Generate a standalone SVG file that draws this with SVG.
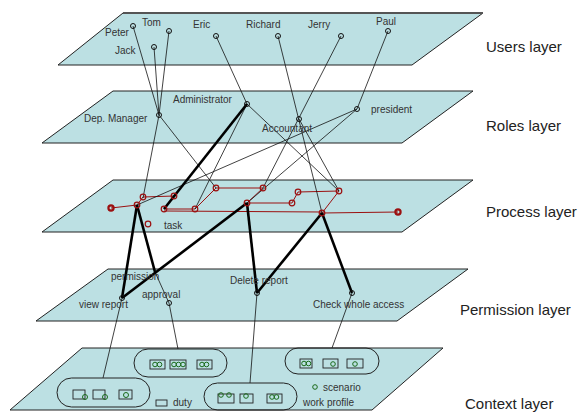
<svg xmlns="http://www.w3.org/2000/svg" width="580" height="412" viewBox="0 0 580 412">
<style>
.layer{fill:#bce0e3;stroke:#222;stroke-width:1}
.t{font-family:"Liberation Sans",Arial,sans-serif;font-size:10px;fill:#333}
.lt{font-family:"Liberation Sans",Arial,sans-serif;font-size:15px;fill:#222}
.n{fill:none;stroke:#111;stroke-width:1}
.thin{stroke:#111;stroke-width:0.8;fill:none}
.thick{stroke:#000;stroke-width:2.6;fill:none}
.flow{stroke:#9b1010;stroke-width:1;fill:none}
.tk{fill:none;stroke:#9b1010;stroke-width:1.2}
.se{fill:none;stroke:#9b1010;stroke-width:2.2}
.pill{fill:none;stroke:#222;stroke-width:1}
.box{fill:none;stroke:#222;stroke-width:0.9}
.g{fill:none;stroke:#1a6a1a;stroke-width:1}
</style>
<g id="layers">
<polygon id="users-layer" class="layer" points="123,13 483,13 412,65 58,65"/>
<line x1="123" y1="13" x2="483" y2="13" stroke="#555" stroke-width="1.8"/>
<polygon id="roles-layer" class="layer" points="113,91 473,91 402,143 42,143"/>
<polygon id="process-layer" class="layer" points="113,180 473,180 402,232 42,232"/>
<polygon id="permission-layer" class="layer" points="108,269 468,269 397,321 36,321"/>
<polygon id="context-layer" class="layer" points="82,348 443,348 372,410 10,410"/>
<text class="lt" x="486" y="52">Users layer</text>
<text class="lt" x="486" y="131">Roles layer</text>
<text class="lt" x="486" y="217">Process layer</text>
<text class="lt" x="460" y="315">Permission layer</text>
<text class="lt" x="465" y="409">Context layer</text>
</g>
<g id="connectors">
<path class="flow" d="M111,208 L137,205 L143,197 L174,196 L164,209 L195,209 L216,188 L263,188 L247,203 L292,203 L298,192 L339,191 L322,213 L398,212 M164,211 L322,212"/>
<line class="thin" x1="133" y1="26" x2="159" y2="115"/>
<line class="thin" x1="154" y1="47" x2="159" y2="115"/>
<line class="thin" x1="169" y1="31" x2="159" y2="115"/>
<line class="thin" x1="216" y1="36" x2="247" y2="104"/>
<line class="thin" x1="278" y1="36" x2="322" y2="213"/>
<line class="thin" x1="341" y1="36" x2="263" y2="188"/>
<line class="thin" x1="388" y1="31" x2="357" y2="109"/>
<line class="thin" x1="159" y1="115" x2="143" y2="198"/>
<line class="thin" x1="159" y1="115" x2="216" y2="188"/>
<line class="thin" x1="247" y1="104" x2="195" y2="209"/>
<line class="thin" x1="247" y1="104" x2="339" y2="191"/>
<line class="thin" x1="299" y1="119" x2="339" y2="191"/>
<line class="thin" x1="357" y1="109" x2="137" y2="205"/>
<line class="thin" x1="357" y1="109" x2="247" y2="203"/>
<line class="thick" x1="247" y1="104" x2="164" y2="209"/>
<line class="thick" x1="137" y1="205" x2="122" y2="298"/>
<line class="thick" x1="137" y1="205" x2="155" y2="272"/>
<line class="thin" x1="155" y1="272" x2="169" y2="303"/>
<line class="thick" x1="247" y1="203" x2="122" y2="298"/>
<line class="thick" x1="247" y1="203" x2="257" y2="293"/>
<line class="thick" x1="322" y1="213" x2="257" y2="293"/>
<line class="thick" x1="322" y1="213" x2="352" y2="293"/>
<line class="thin" x1="122" y1="298" x2="103" y2="378"/>
<line class="thin" x1="169" y1="303" x2="178" y2="349"/>
<line class="thin" x1="257" y1="293" x2="250" y2="383"/>
<line class="thin" x1="352" y1="293" x2="332" y2="348"/>
</g>
<g id="users">
<g id="peter"><circle class="n" cx="133" cy="26" r="2.5"/><text class="t" x="105" y="36">Peter</text></g>
<g id="tom"><circle class="n" cx="169" cy="31" r="2.5"/><text class="t" x="142" y="26">Tom</text></g>
<g id="jack"><circle class="n" cx="154" cy="47" r="2.5"/><text class="t" x="115" y="54">Jack</text></g>
<g id="eric"><circle class="n" cx="216" cy="36" r="2.5"/><text class="t" x="193" y="28">Eric</text></g>
<g id="richard"><circle class="n" cx="278" cy="36" r="2.5"/><text class="t" x="246" y="28">Richard</text></g>
<g id="jerry"><circle class="n" cx="341" cy="36" r="2.5"/><text class="t" x="308" y="28">Jerry</text></g>
<g id="paul"><circle class="n" cx="388" cy="31" r="2.5"/><text class="t" x="376" y="25">Paul</text></g>
</g>
<g id="roles">
<g id="dep-manager"><circle class="n" cx="159" cy="115" r="2.5"/><text class="t" x="84" y="122">Dep. Manager</text></g>
<g id="administrator"><circle class="n" cx="247" cy="104" r="2.5"/><text class="t" x="173" y="103">Administrator</text></g>
<g id="accountant"><circle class="n" cx="299" cy="119" r="2.5"/><text class="t" x="262" y="132">Accountant</text></g>
<g id="president"><circle class="n" cx="357" cy="109" r="2.5"/><text class="t" x="371" y="113">president</text></g>
</g>
<g id="process">
<circle class="se" cx="111" cy="208" r="2.6"/>
<circle class="se" cx="398" cy="212" r="2.6"/>
<circle class="tk" cx="137" cy="205" r="2.8"/>
<circle class="tk" cx="143" cy="197" r="2.8"/>
<circle class="tk" cx="174" cy="196" r="2.8"/>
<circle class="tk" cx="164" cy="209" r="2.8"/>
<circle class="tk" cx="195" cy="209" r="2.8"/>
<circle class="tk" cx="216" cy="188" r="2.8"/>
<circle class="tk" cx="263" cy="188" r="2.8"/>
<circle class="tk" cx="247" cy="203" r="2.8"/>
<circle class="tk" cx="292" cy="203" r="2.8"/>
<circle class="tk" cx="298" cy="192" r="2.8"/>
<circle class="tk" cx="339" cy="191" r="2.8"/>
<circle class="tk" cx="322" cy="213" r="2.8"/>
<circle class="tk" cx="148" cy="224" r="2.8"/>
<text class="t" x="164" y="229">task</text>
</g>
<g id="permissions">
<text class="t" x="111" y="280">permission</text>
<g id="view-report"><circle class="n" cx="122" cy="298" r="2.5"/><text class="t" x="79" y="308">view report</text></g>
<g id="approval"><circle class="n" cx="169" cy="303" r="2.5"/><text class="t" x="142" y="298">approval</text></g>
<g id="delete-report"><circle class="n" cx="257" cy="293" r="2.5"/><text class="t" x="230" y="284">Delete report</text></g>
<g id="check-whole-access"><circle class="n" cx="352" cy="293" r="2.5"/><text class="t" x="313" y="308">Check whole access</text></g>
</g>
<g id="context">
<g id="profile1"><rect class="pill" x="57" y="378" width="93" height="29" rx="14.5"/>
<rect class="box" x="73" y="390" width="12" height="9"/><circle class="g" cx="85" cy="397" r="2.5"/>
<rect class="box" x="93" y="390" width="12" height="9"/><circle class="g" cx="105" cy="397" r="2.5"/>
<rect class="box" x="119" y="390" width="13" height="9"/><circle class="g" cx="126" cy="395" r="2.5"/></g>
<g id="profile2"><rect class="pill" x="134" y="349" width="93" height="28" rx="14"/>
<rect class="box" x="150" y="360" width="15" height="9"/><circle class="g" cx="155" cy="364.5" r="2.3"/><circle class="g" cx="159.5" cy="364.5" r="2.3"/>
<rect class="box" x="170" y="360" width="16" height="9"/><circle class="g" cx="174" cy="364.5" r="2.3"/><circle class="g" cx="178.5" cy="364.5" r="2.3"/><circle class="g" cx="183" cy="364.5" r="2.3"/>
<rect class="box" x="197" y="360" width="15" height="9"/><circle class="g" cx="202" cy="364.5" r="2.3"/><circle class="g" cx="206.5" cy="364.5" r="2.3"/></g>
<g id="profile3"><rect class="pill" x="204" y="383" width="93" height="27" rx="13.5"/>
<rect class="box" x="218" y="394" width="16" height="9"/><circle class="g" cx="221" cy="395" r="2.3"/><circle class="g" cx="229" cy="395" r="2.3"/>
<rect class="box" x="240" y="394" width="13" height="9"/><circle class="g" cx="246" cy="396" r="2.3"/>
<rect class="box" x="267" y="394" width="15" height="9"/><circle class="g" cx="272" cy="397" r="2.3"/><circle class="g" cx="276.5" cy="397" r="2.3"/></g>
<g id="profile4"><rect class="pill" x="285" y="348" width="94" height="26" rx="13"/>
<rect class="box" x="300" y="359" width="12" height="9"/><circle class="g" cx="304" cy="363.5" r="2.3"/><circle class="g" cx="308.5" cy="363.5" r="2.3"/>
<rect class="box" x="323" y="359" width="15" height="9"/><circle class="g" cx="333" cy="364" r="2.3"/>
<rect class="box" x="347" y="359" width="16" height="9"/><circle class="g" cx="355" cy="364" r="2.3"/></g>
<g id="legend">
<rect class="box" x="156" y="400" width="11" height="6"/><text class="t" x="173" y="406">duty</text>
<circle class="g" cx="315" cy="387" r="2.3"/><text class="t" x="323" y="391">scenario</text>
<text class="t" x="303" y="406">work profile</text>
</g>
</g>
</svg>
